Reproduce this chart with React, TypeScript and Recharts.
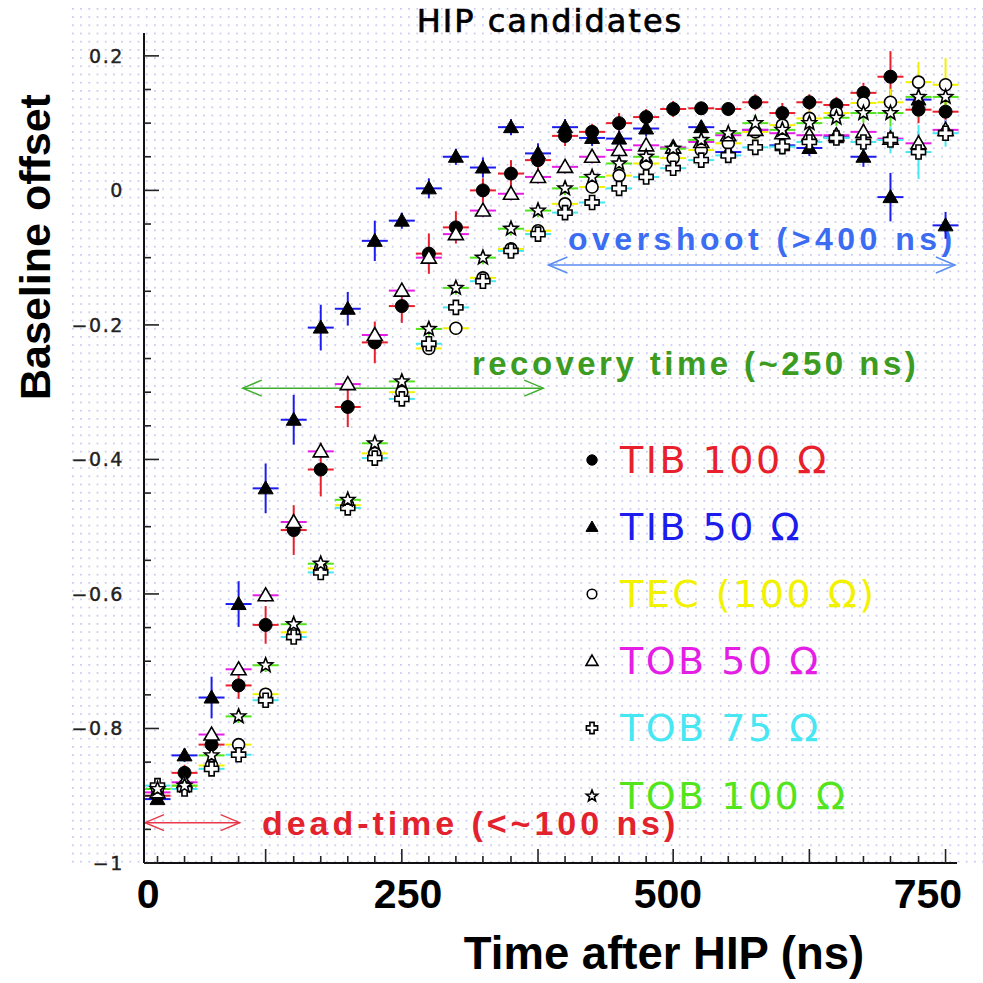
import React from 'react';
import { ScatterChart, Scatter, XAxis, YAxis, ErrorBar, ReferenceLine, Legend, Customized } from 'recharts';

// ---- data ----
const times = [9, 35, 61, 87, 113, 140, 166, 192, 218, 244, 270, 296, 322, 349, 375, 401, 427, 453, 479, 505, 532, 558, 584, 610, 636, 662, 688, 714, 741, 767];
const binHalfWidth = 12.5;

const tib100 = [-0.9, -0.866, -0.824, -0.736, -0.646, -0.505, -0.415, -0.322, -0.226, -0.172, -0.094, -0.055, 0.0, 0.025, 0.045, 0.081, 0.087, 0.1, 0.109, 0.121, 0.122, 0.121, 0.131, 0.115, 0.131, 0.127, 0.145, 0.169, 0.12, 0.117];
const tib100Err = [0.01, 0.012, 0.015, 0.02, 0.028, 0.037, 0.04, 0.03, 0.031, 0.025, 0.03, 0.024, 0.018, 0.02, 0.015, 0.015, 0.012, 0.015, 0.012, 0.012, 0.01, 0.01, 0.012, 0.015, 0.012, 0.012, 0.015, 0.038, 0.02, 0.015];

const tib50 = [-0.905, -0.84, -0.754, -0.615, -0.443, -0.341, -0.204, -0.176, -0.075, -0.045, 0.003, 0.05, 0.034, 0.094, 0.055, 0.094, 0.078, 0.077, 0.092, 0.063, 0.094, 0.057, 0.09, 0.067, 0.063, 0.079, 0.05, -0.01, 0.135, -0.052];
const tib50Err = [0.008, 0.01, 0.031, 0.034, 0.037, 0.037, 0.034, 0.025, 0.03, 0.012, 0.015, 0.012, 0.015, 0.012, 0.015, 0.012, 0.012, 0.012, 0.012, 0.012, 0.01, 0.012, 0.012, 0.012, 0.012, 0.012, 0.015, 0.036, 0.02, 0.02];

const tec100 = [-0.89, -0.885, -0.855, -0.824, -0.749, -0.657, -0.562, -0.468, -0.391, -0.3, -0.235, -0.205, -0.13, -0.087, -0.06, -0.02, 0.005, 0.022, 0.04, 0.048, 0.06, 0.07, 0.087, 0.097, 0.107, 0.115, 0.13, 0.131, 0.161, 0.157];
const tec100Err = [0.008, 0.008, 0.01, 0.01, 0.01, 0.01, 0.01, 0.01, 0.01, 0.01, 0.01, 0.01, 0.01, 0.01, 0.01, 0.01, 0.01, 0.01, 0.01, 0.01, 0.01, 0.01, 0.012, 0.012, 0.012, 0.012, 0.015, 0.02, 0.03, 0.04];

const tob50 = [-0.895, -0.88, -0.809, -0.712, -0.602, -0.493, -0.388, -0.288, -0.215, -0.149, -0.1, -0.065, -0.03, -0.005, 0.02, 0.035, 0.05, 0.06, 0.067, 0.064, 0.072, 0.082, 0.09, 0.085, 0.082, 0.082, 0.087, 0.077, 0.07, 0.09];
const tob50Err = [0.008, 0.008, 0.01, 0.01, 0.01, 0.01, 0.01, 0.01, 0.01, 0.01, 0.01, 0.01, 0.01, 0.01, 0.01, 0.01, 0.01, 0.01, 0.01, 0.01, 0.01, 0.01, 0.01, 0.01, 0.01, 0.01, 0.012, 0.015, 0.015, 0.015];

const tob75 = [-0.885, -0.89, -0.86, -0.839, -0.758, -0.664, -0.568, -0.472, -0.398, -0.31, -0.228, -0.174, -0.135, -0.09, -0.065, -0.033, -0.018, 0.003, 0.02, 0.033, 0.045, 0.052, 0.064, 0.065, 0.072, 0.078, 0.072, 0.075, 0.057, 0.085];
const tob75Err = [0.008, 0.008, 0.01, 0.01, 0.01, 0.01, 0.01, 0.01, 0.01, 0.01, 0.01, 0.01, 0.01, 0.01, 0.01, 0.01, 0.01, 0.01, 0.01, 0.01, 0.01, 0.01, 0.01, 0.012, 0.012, 0.012, 0.015, 0.02, 0.04, 0.02];

const tob100 = [-0.89, -0.885, -0.84, -0.782, -0.706, -0.645, -0.555, -0.46, -0.376, -0.284, -0.206, -0.145, -0.1, -0.057, -0.03, 0.003, 0.02, 0.04, 0.05, 0.062, 0.075, 0.085, 0.1, 0.09, 0.1, 0.108, 0.115, 0.115, 0.139, 0.139];
const tob100Err = [0.008, 0.008, 0.01, 0.01, 0.01, 0.01, 0.01, 0.01, 0.01, 0.01, 0.01, 0.01, 0.01, 0.01, 0.01, 0.01, 0.01, 0.01, 0.01, 0.01, 0.01, 0.01, 0.012, 0.012, 0.012, 0.012, 0.015, 0.02, 0.03, 0.02];

const seriesNames = ['TIB 100 \u03A9', 'TIB 50 \u03A9', 'TEC (100 \u03A9)', 'TOB 50 \u03A9', 'TOB 75 \u03A9', 'TOB 100 \u03A9'];
const seriesColors = ['#e8202c', '#1c1cec', '#f2f200', '#e41ee4', '#46e6f2', '#52e41c'];
const seriesValues = [tib100, tib50, tec100, tob50, tob75, tob100];
const seriesErrors = [tib100Err, tib50Err, tec100Err, tob50Err, tob75Err, tob100Err];
const seriesMarkers = ['fcircle', 'ftriangle', 'ocircle', 'otriangle', 'ocross', 'ostar'];

const yMajorTicks = [0.2, 0, -0.2, -0.4, -0.6, -0.8, -1];
const yMajorLabels = ['0.2', '0', '\u22120.2', '\u22120.4', '\u22120.6', '\u22120.8', '\u22121'];
const yMinorTicks = [0.15, 0.1, 0.05, -0.05, -0.1, -0.15, -0.25, -0.3, -0.35, -0.45, -0.5, -0.55, -0.65, -0.7, -0.75, -0.85, -0.9, -0.95];
const xLabelTicks = [0, 250, 500, 750];
const xLabels = ['0', '250', '500', '750'];

// annotations (data coordinates)
const deadTimeArrow = { y: -0.94, from: -3, to: 88 };
const recoveryArrow = { y: -0.294, from: 91, to: 380 };
const overshootArrow = { y: -0.111, from: 385, to: 776 };

const seriesData = seriesValues.map((vals, s) =>
  times.map((t, i) => ({ t, v: vals[i], ey: seriesErrors[s][i], ex: binHalfWidth }))
);

// ---- marker shapes ----
function markerPath(kind: string, cx: number, cy: number, k: number) {
  const sw = 1.6;
  switch (kind) {
    case 'fcircle':
      return <circle cx={cx} cy={cy} r={6.5 * k} fill="#000" stroke="#000" strokeWidth={1} />;
    case 'ocircle':
      return <circle cx={cx} cy={cy} r={6 * k} fill="#fff" stroke="#000" strokeWidth={sw} />;
    case 'ftriangle': {
      const p = `${cx},${cy - 7.5 * k} ${cx - 7.5 * k},${cy + 5.5 * k} ${cx + 7.5 * k},${cy + 5.5 * k}`;
      return <polygon points={p} fill="#000" stroke="#000" strokeWidth={1} />;
    }
    case 'otriangle': {
      const p = `${cx},${cy - 7.5 * k} ${cx - 7.5 * k},${cy + 5.5 * k} ${cx + 7.5 * k},${cy + 5.5 * k}`;
      return <polygon points={p} fill="#fff" stroke="#000" strokeWidth={sw} />;
    }
    case 'ocross': {
      const a = 2.6 * k;
      const b = 7 * k;
      const pts = [
        [-a, -b], [a, -b], [a, -a], [b, -a], [b, a], [a, a], [a, b], [-a, b], [-a, a], [-b, a], [-b, -a], [-a, -a],
      ].map(([dx, dy]) => `${cx + dx},${cy + dy}`).join(' ');
      return <polygon points={pts} fill="#fff" stroke="#000" strokeWidth={sw} />;
    }
    case 'ostar': {
      const pts: string[] = [];
      for (let i = 0; i < 10; i++) {
        const r = (i % 2 === 0 ? 7.5 : 3.2) * k;
        const ang = -Math.PI / 2 + (i * Math.PI) / 5;
        pts.push(`${cx + r * Math.cos(ang)},${cy + r * Math.sin(ang)}`);
      }
      return <polygon points={pts.join(' ')} fill="#fff" stroke="#000" strokeWidth={sw} />;
    }
    default:
      return null;
  }
}

const makeShape = (kind: string) => (props: any) => {
  const { cx, cy } = props;
  if (cx == null || cy == null) return <g />;
  return <g>{markerPath(kind, cx, cy, 1)}</g>;
};

// ---- axis ticks ----
const YTick = (props: any) => {
  const { x, y, payload } = props;
  const v = payload.value;
  const idx = yMajorTicks.findIndex((m) => Math.abs(m - v) < 1e-6);
  const major = idx >= 0;
  return (
    <g>
      <line x1={x} y1={y} x2={x + (major ? 15 : 7)} y2={y} stroke="#222" strokeWidth={1.6} />
      {major && (
        <text x={x - 20} y={y} dy={7} textAnchor="end" fontFamily="DejaVu Sans" fontSize={19} letterSpacing={1.6} fill="#222" stroke="#222" strokeWidth={0.4}>
          {yMajorLabels[idx]}
        </text>
      )}
    </g>
  );
};

const XTick = (props: any) => {
  const { x, y, payload } = props;
  const v = payload.value;
  const li = xLabelTicks.indexOf(v);
  if (li >= 0) {
    return (
      <text x={x} y={y + 45} textAnchor="middle" fontFamily="Liberation Sans, Arial, sans-serif" fontWeight="bold" fontSize={41} fill="#000">
        {xLabels[li]}
      </text>
    );
  }
  const ti = times.indexOf(v);
  const major = ti % 5 === 4;
  return <line x1={x} y1={y} x2={x} y2={y - (major ? 14 : 7)} stroke="#222" strokeWidth={1.6} />;
};

// ---- annotation arrow ----
const arrowShape = (color: string) => (props: any) => {
  const { x1, y1, x2, y2 } = props;
  if (x1 == null) return <g />;
  const l = Math.min(x1, x2);
  const r = Math.max(x1, x2);
  const y = y1;
  const hl = 19;
  const hw = 8;
  return (
    <g stroke={color} strokeWidth={1.5} fill="none">
      <line x1={l} y1={y} x2={r} y2={y2} />
      <polyline points={`${l + hl},${y - hw} ${l},${y} ${l + hl},${y + hw}`} />
      <polyline points={`${r - hl},${y - hw} ${r},${y} ${r - hl},${y + hw}`} />
    </g>
  );
};

// ---- legend ----
const LegendBox = () => (
  <div style={{ width: 360 }}>
    {seriesNames.map((name, i) => (
      <div key={name} style={{ height: 67.2, display: 'flex', alignItems: 'center' }}>
        <svg width={24} height={24} style={{ flex: 'none' }}>
          {markerPath(seriesMarkers[i], 12, 12, 0.8)}
        </svg>
        <span
          style={{
            marginLeft: 16,
            color: seriesColors[i],
            fontFamily: 'DejaVu Sans, sans-serif',
            fontSize: 38,
            letterSpacing: 2.5,
            lineHeight: '40px',
            whiteSpace: 'nowrap',
          }}
        >
          {name}
        </span>
      </div>
    ))}
  </div>
);

const Texts = () => (
  <g>
    <text x={550} y={32} textAnchor="middle" fontFamily="DejaVu Sans" fontSize={32} letterSpacing={2} fill="#000" stroke="#000" strokeWidth={0.7}>
      HIP candidates
    </text>
    <text transform="translate(50,247) rotate(-90)" textAnchor="middle" fontFamily="Liberation Sans, Arial, sans-serif" fontWeight="bold" fontSize={43} fill="#000">
      Baseline offset
    </text>
    <text x={664} y={969} textAnchor="middle" fontFamily="Liberation Sans, Arial, sans-serif" fontWeight="bold" fontSize={45.5} fill="#000">
      Time after HIP (ns)
    </text>
    <text x={568} y={250} fontFamily="Liberation Sans, Arial, sans-serif" fontWeight="bold" fontSize={32} letterSpacing={4.5} fill="#3b6cf2">
      overshoot (&gt;400 ns)
    </text>
    <text x={472} y={375} fontFamily="Liberation Sans, Arial, sans-serif" fontWeight="bold" fontSize={33} letterSpacing={3.45} fill="#3c9c22">
      recovery time (~250 ns)
    </text>
    <text x={262} y={835} fontFamily="Liberation Sans, Arial, sans-serif" fontWeight="bold" fontSize={34} letterSpacing={3.95} fill="#e2232e">
      dead-time (&lt;~100 ns)
    </text>
  </g>
);

export default function App() {
  return (
    <div style={{ position: 'absolute', left: 0, top: 0, width: 983, height: 983, background: '#fff' }}>
      <svg width={983} height={983} style={{ position: 'absolute', left: 0, top: 0 }}>
        <defs>
          <pattern id="dots" x="72" y="8" width="8.2" height="8.2" patternUnits="userSpaceOnUse">
            <rect x="0" y="0" width="1.7" height="1.7" fill="#c6c6f2" />
          </pattern>
        </defs>
        <rect x={70} y={6} width={913} height={857} fill="url(#dots)" />
      </svg>
      <div style={{ position: 'absolute', left: 0, top: 0 }}>
        <ScatterChart width={983} height={983} margin={{ top: 33, right: 26, bottom: 0, left: 74 }}>
          <XAxis
            xAxisId="main"
            type="number"
            dataKey="t"
            domain={[-4, 778]}
            allowDataOverflow
            ticks={[...times, ...xLabelTicks]}
            interval={0}
            tickSize={0}
            tickMargin={0}
            tickLine={false}
            tick={<XTick />}
            height={120}
            axisLine={{ stroke: '#111', strokeWidth: 2 }}
          />
          <XAxis xAxisId="top" type="number" orientation="top" domain={[-4, 778]} height={0} tick={false} tickLine={false} axisLine={{ stroke: '#111', strokeWidth: 2 }} />
          <YAxis
            yAxisId="main"
            type="number"
            dataKey="v"
            domain={[-1, 0.234]}
            allowDataOverflow
            ticks={[...yMajorTicks, ...yMinorTicks]}
            interval={0}
            tickSize={0}
            tickMargin={0}
            tickLine={false}
            tick={<YTick />}
            width={70}
            axisLine={{ stroke: '#111', strokeWidth: 2 }}
          />
          <YAxis yAxisId="right" type="number" orientation="right" domain={[-1, 0.234]} width={0} tick={false} tickLine={false} axisLine={{ stroke: '#111', strokeWidth: 2 }} />

          <ReferenceLine xAxisId="main" yAxisId="main" segment={[{ x: deadTimeArrow.from, y: deadTimeArrow.y }, { x: deadTimeArrow.to, y: deadTimeArrow.y }]} shape={arrowShape('#e8384a')} ifOverflow="extendDomain" />
          <ReferenceLine xAxisId="main" yAxisId="main" segment={[{ x: recoveryArrow.from, y: recoveryArrow.y }, { x: recoveryArrow.to, y: recoveryArrow.y }]} shape={arrowShape('#3fae2e')} ifOverflow="extendDomain" />
          <ReferenceLine xAxisId="main" yAxisId="main" segment={[{ x: overshootArrow.from, y: overshootArrow.y }, { x: overshootArrow.to, y: overshootArrow.y }]} shape={arrowShape('#5a8cf2')} ifOverflow="extendDomain" />

          {seriesData.map((d, s) => (
            <Scatter
              key={seriesNames[s]}
              name={seriesNames[s]}
              xAxisId="main"
              yAxisId="main"
              data={d}
              dataKey="v"
              isAnimationActive={false}
              shape={makeShape(seriesMarkers[s])}
            >
              <ErrorBar dataKey="ex" direction="x" width={0} stroke={seriesColors[s]} strokeWidth={2} isAnimationActive={false} />
              <ErrorBar dataKey="ey" direction="y" width={0} stroke={seriesColors[s]} strokeWidth={2} isAnimationActive={false} />
            </Scatter>
          ))}

          <Legend
            layout="vertical"
            align="center"
            verticalAlign="middle"
            content={() => <LegendBox />}
            wrapperStyle={{ left: 580, top: 426, width: 360, height: 404 }}
          />
          <Customized component={<Texts />} />
        </ScatterChart>
      </div>
    </div>
  );
}
